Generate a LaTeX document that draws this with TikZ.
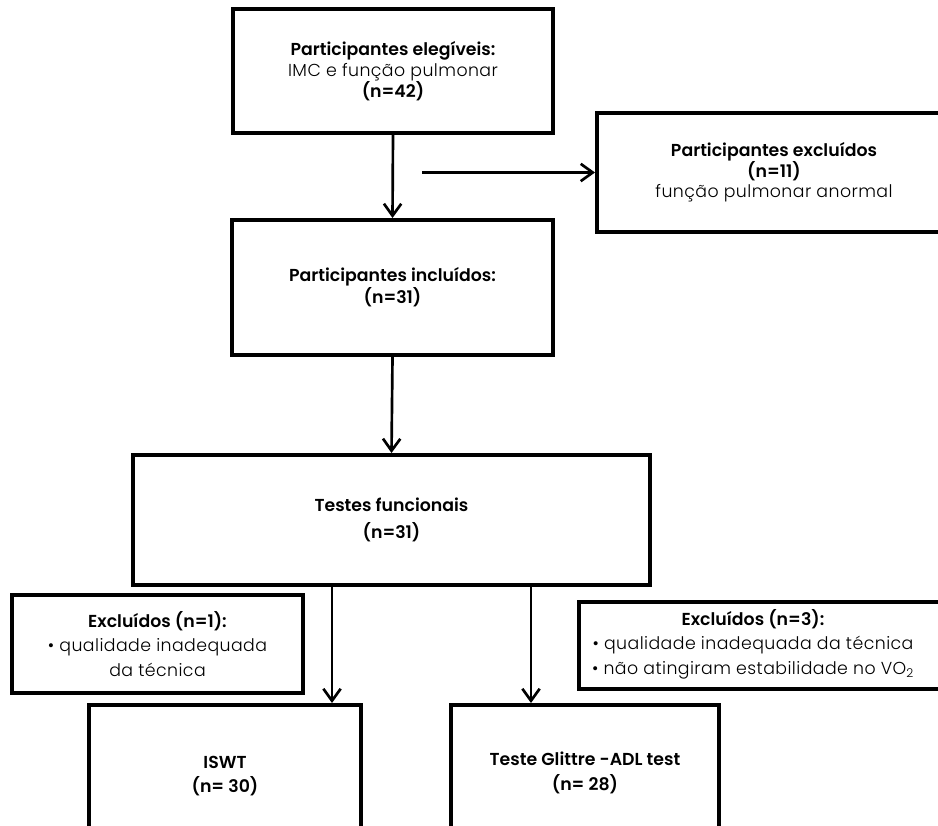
\documentclass[tikz,border=0pt]{standalone}
\usepackage{fontspec}
\IfFontExistsTF{Poppins Light}{%
  \IfFontExistsTF{Poppins SemiBold}{%
    \setmainfont{Poppins Light}[BoldFont={Poppins SemiBold}]}{%
    \setmainfont{Poppins Light}[BoldFont={Poppins Medium}]}%
  \newfontfamily\lightfont{Poppins Light}[LetterSpace=2.5]}{%
  \setmainfont{Poppins}\newfontfamily\lightfont{Poppins}}
\newcommand\lt[1]{{\lightfont #1}}
\usetikzlibrary{arrows.meta}
\begin{document}
\begin{tikzpicture}[x=0.75pt,y=-0.75pt,
  box/.style={draw,line width=3pt,rectangle,inner sep=0pt,align=center,
    font=\fontsize{13}{15.5}\selectfont},
  lowbox/.style={box,font=\fontsize{13}{18.5}\selectfont},
  txt/.style={inner sep=0pt,align=center,font=\fontsize{13}{18.5}\selectfont},
  arr/.style={line width=2pt,-{Straight Barb[length=9pt,width=13pt,line width=2pt]}}]
\path[use as bounding box] (0,0) rectangle (938,825);
\clip (0,0) rectangle (938,825);
\node[box,minimum width={320*0.75pt},minimum height={124*0.75pt}] (b1) at (393,71)
  {\textbf{Participantes elegíveis:}\\\lt{IMC e função pulmonar}\\\textbf{(n=42)}};
\node[box,font=\fontsize{13}{16.5}\selectfont,minimum width={321*0.75pt},minimum height={135*0.75pt}] (b2) at (392.5,287.5)
  {\textbf{Participantes incluídos:}\\\textbf{(n=31)}};
\node[box,anchor=west,minimum width={354*0.75pt},minimum height={119*0.75pt}] (ex) at (595,172.5)
  {\textbf{Participantes excluídos}\\\textbf{(n=11)}\\\lt{função pulmonar anormal}};
\node[lowbox,font=\fontsize{13}{20}\selectfont,minimum width={517*0.75pt},minimum height={130*0.75pt}] (b3) at (391.5,520)
  {\textbf{Testes funcionais}\\\textbf{(n=31)}};
\node[lowbox,minimum width={291*0.75pt},minimum height={98*0.75pt}] (ex1) at (157.5,644)
  {\textbf{Excluídos (n=1):}\\\lt{• qualidade inadequada}\\\lt{da técnica}};
\node[box,anchor=north west,minimum width={400*0.75pt},minimum height={87*0.75pt}] (ex3) at (577,600) {};
\node[txt] (ex3t) at (753,644)
  {\textbf{Excluídos (n=3):}\\\lt{• qualidade inadequada da técnica}\\\lt{• não atingiram estabilidade no VO\textsubscript{2}}};
\node[lowbox,anchor=north west,minimum width={272*0.75pt},minimum height={142*0.75pt}] (iswt) at (87,703)
  {\textbf{ISWT}\\\textbf{(n= 30)}};
\node[lowbox,anchor=north west,minimum width={268*0.75pt},minimum height={136*0.75pt}] (glit) at (449,703)
  {\textbf{Teste Glittre -ADL test}\\\textbf{(n= 28)}};
\coordinate (hs) at (422,172.5);
\coordinate (cl) at (332,0);
\coordinate (cr) at (531,0);
\draw[arr] (b1.south) -- (b2.north);
\draw[arr] (hs) -- (ex.west);
\draw[arr] (b2.south) -- (b3.north);
\draw[arr] (b3.south -| cl) -- (iswt.north -| cl);
\draw[arr] (b3.south -| cr) -- (glit.north -| cr);
\end{tikzpicture}
\end{document}
